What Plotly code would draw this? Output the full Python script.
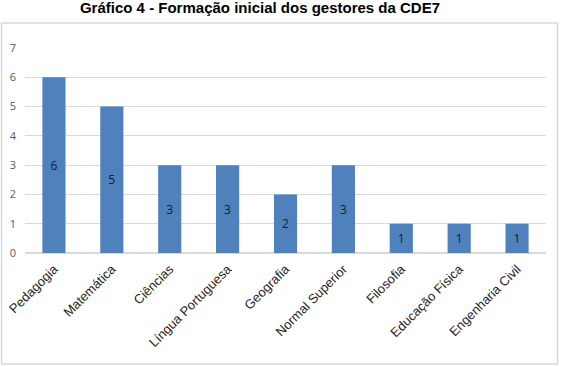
import plotly.graph_objects as go

categories = ["Pedagogia", "Matemática", "Ciências", "Língua Portuguesa", "Geografia",
              "Normal Superior", "Filosofia", "Educação Física", "Engenharia Civil"]
values = [6, 5, 3, 3, 2, 3, 1, 1, 1]
y_ticks = [0, 1, 2, 3, 4, 5, 6, 7]
title = "Gráfico 4 - Formação inicial dos gestores da CDE7"

fig = go.Figure(go.Bar(
    x=categories, y=values, text=[str(v) for v in values],
    textposition="inside", insidetextanchor="middle",
    textfont=dict(family="Open Sans, Liberation Sans", size=12, color="#1a1a2e"),
    marker=dict(color="#4f81bd", line=dict(width=0)),
    width=0.4, cliponaxis=False,
))

fig.update_layout(
    width=561, height=366,
    margin=dict(l=24.5, r=14.5, t=48, b=113),
    paper_bgcolor="white", plot_bgcolor="white",
    showlegend=False,
    title=dict(text="<b>" + title + "</b>", x=260 / 561, xanchor="center",
               y=0.978, yanchor="middle", yref="container",
               font=dict(family="Liberation Sans, Arial", size=15, color="black")),
    xaxis=dict(tickangle=-45, showgrid=False, showline=False, ticks="", automargin=False,
               ticklabelstandoff=5,
               tickfont=dict(family="Liberation Sans, Arial", size=13, color="#262626")),
    yaxis=dict(range=[0, 7], tickvals=y_ticks, showgrid=True, gridcolor="#d9d9d9",
               gridwidth=1, zeroline=True, zerolinecolor="#d9d9d9", showline=False,
               ticks="", ticklabelstandoff=8, automargin=False,
               tickfont=dict(family="Open Sans, Liberation Sans", size=11, color="#595959")),
    shapes=[dict(type="rect", xref="paper", yref="paper",
                 x0=(1 - 24.5) / 522, x1=(558 - 24.5) / 522,
                 y0=(253 - 364) / 205, y1=(253 - 23) / 205,
                 line=dict(color="#d9d9d9", width=1.5), layer="below")],
)

fig.write_html("out.html")
